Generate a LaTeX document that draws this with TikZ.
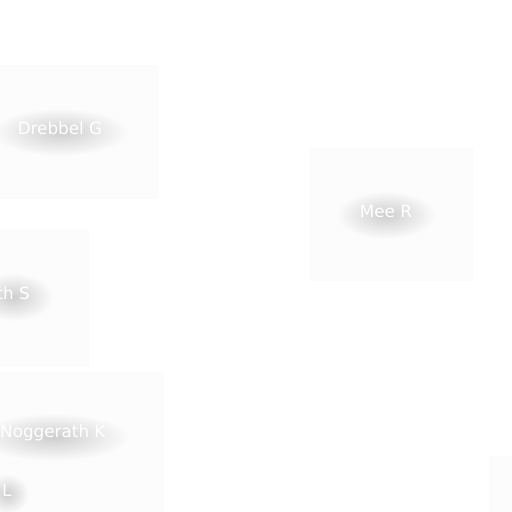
\documentclass[tikz,border=0pt]{standalone}
\usepackage{fontspec}
\setmainfont{DejaVu Sans}
\usetikzlibrary{fadings}
\definecolor{boxfill}{HTML}{FCFCFC}
\definecolor{boxline}{HTML}{FBFBFB}
\definecolor{shadowgray}{HTML}{000000}
\tikzfading[name=softglow, inner color=transparent!82, outer color=transparent!100]
\pgfdeclarelayer{bg}
\pgfsetlayers{bg,main}
\tikzset{
  card/.style={draw=boxline, fill=boxfill, line width=0.5pt},
  labeltext/.style={font=\fontsize{16.8}{19}\selectfont, inner sep=0pt, text=white},
  glow/.style={fill=shadowgray, path fading=softglow}
}
\begin{document}
\begin{tikzpicture}[x=1pt,y=-1pt]
\useasboundingbox (0,0) rectangle (512,512);
% labels
\node[labeltext] (drebbel) at (60,128) {Drebbel G};
\node[labeltext] (mee) at (386,211) {Mee R};
\node[labeltext, anchor=east] (smith) at (30,293) {th S};
\node[labeltext, anchor=west] (nogg) at (0,433) {Noggerath K};
\node[labeltext, anchor=west] (lnode) at (2,490) {L};
\begin{pgfonlayer}{bg}
\fill[white] (0,0) rectangle (512,512);
% cards
\draw[card] (-2,65) rectangle (158,198);
\draw[card] (310,148) rectangle (472,280);
\draw[card] (-2,230) rectangle (88,365);
\draw[card] (-2,372) rectangle (163,514);
\draw[card] (-2,462) rectangle (70,514);
\draw[card] (490,456) rectangle (514,514);
% glows
\path[glow] ([yshift=-4pt]drebbel.center) ellipse [x radius=68, y radius=24];
\path[glow] ([yshift=-4pt]mee.center) ellipse [x radius=50, y radius=24];
\path[glow] ([yshift=-4pt]smith.center) ellipse [x radius=40, y radius=24];
\path[glow] ([yshift=-4pt]nogg.center) ellipse [x radius=76, y radius=24];
\path[glow] ([yshift=-4pt]lnode.center) ellipse [x radius=22, y radius=20];
\end{pgfonlayer}
\end{tikzpicture}
\end{document}
